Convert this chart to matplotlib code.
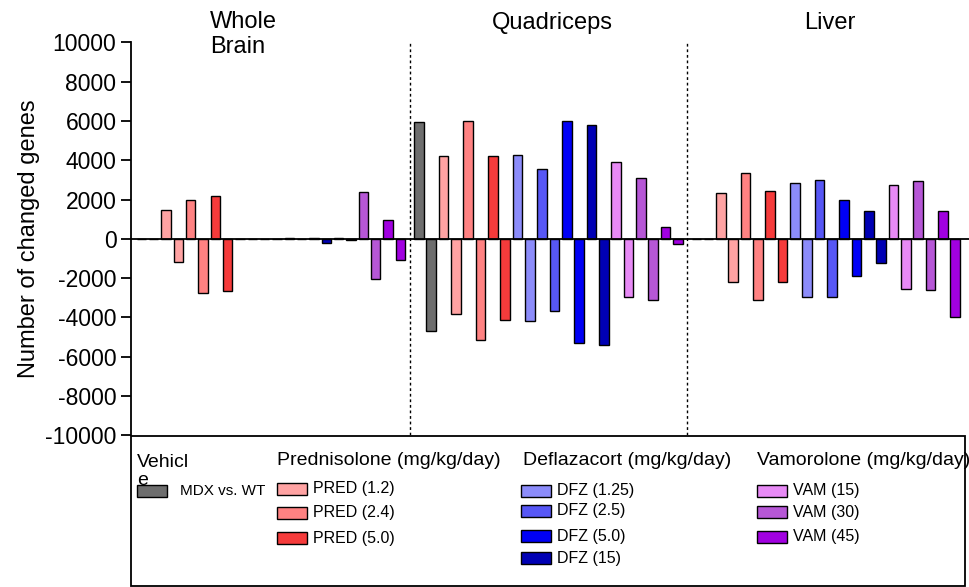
import matplotlib.pyplot as plt
from matplotlib.patches import Rectangle

plt.rcParams['font.family'] = ['Liberation Sans', 'DejaVu Sans']
plt.rcParams['axes.unicode_minus'] = False

tissues = ['Whole\nBrain', 'Quadriceps', 'Liver']
groups = ['MDX vs. WT', 'PRED (1.2)', 'PRED (2.4)', 'PRED (5.0)',
          'DFZ (1.25)', 'DFZ (2.5)', 'DFZ (5.0)', 'DFZ (15)',
          'VAM (15)', 'VAM (30)', 'VAM (45)']
colors = ['#6e6e6e', '#ffa3a3', '#ff8282', '#f53b3b',
          '#8c8cfa', '#5757f5', '#0000f5', '#0000b4',
          '#e78af5', '#b657d6', '#a100e0']

# up / down regulated gene counts per tissue
brain_up = [0, 1470, 1950, 2180, 0, 0, 20, 60, 60, 2400, 960]
brain_down = [-20, -1170, -2780, -2670, 0, -20, -20, -190, -80, -2030, -1080]
quad_up = [5950, 4200, 5990, 4210, 4260, 3550, 6000, 5790, 3890, 3080, 600]
quad_down = [-4670, -3810, -5140, -4130, -4200, -3670, -5310, -5410, -2980, -3100, -290]
liver_up = [0, 2320, 3330, 2420, 2840, 2980, 2000, 1390, 2760, 2940, 1390]
liver_down = [0, -2200, -3110, -2180, -2940, -2960, -1910, -1230, -2540, -2600, -3990]

data = [(brain_up, brain_down), (quad_up, quad_down), (liver_up, liver_down)]

fig = plt.figure(figsize=(9.7, 5.87), dpi=100)
ax = fig.add_axes([131 / 970, 1 - 435.3 / 587, (970 - 131) / 970, (435.3 - 42.3) / 587])

for t, (up, down) in enumerate(data):
    base = t * 22.5
    for g in range(len(groups)):
        x = base + g * 2
        ax.bar(x, up[g], width=0.77, color=colors[g], edgecolor='black', linewidth=1.0, zorder=3)
        ax.bar(x + 1, down[g], width=0.77, color=colors[g], edgecolor='black', linewidth=1.0, zorder=3)

ax.axhline(0, color='black', linewidth=1.3, zorder=4)
for t in (1, 2):
    ax.vlines(t * 22.5 - 0.75, -10000, 10000, colors='black', linestyles=(0, (2, 2)),
              linewidth=1.0, zorder=2)

ax.set_xlim(-0.84, 67.2)
ax.set_ylim(-10000, 10000)
ax.set_yticks(range(-10000, 10001, 2000))
ax.tick_params(axis='y', labelsize=16.5, length=7, width=1.3, pad=3.5)
ax.set_xticks([])
for s in ('top', 'right', 'bottom'):
    ax.spines[s].set_visible(False)
ax.spines['left'].set_linewidth(1.3)
ax.set_ylabel('Number of changed genes', fontsize=17)
ax.yaxis.set_label_coords(-0.109, 0.5)

# overlay in pixel coordinates for titles and the legend box
ov = fig.add_axes([0, 0, 1, 1])
ov.set_xlim(0, 970)
ov.set_ylim(587, 0)
ov.axis('off')

ov.text(210, 53, tissues[0], fontsize=17, ha='left', va='baseline', linespacing=1.15)
ov.text(552, 29, tissues[1], fontsize=17, ha='center', va='baseline')
ov.text(830, 29, tissues[2], fontsize=17, ha='center', va='baseline')

box = Rectangle((131.5, 436), 834, 150, facecolor='white', edgecolor='black', linewidth=1.3)
ov.add_patch(box)

headers = ['Prednisolone (mg/kg/day)', 'Deflazacort (mg/kg/day)', 'Vamorolone (mg/kg/day)']
header_x = [277, 523, 757]
for h, hx in zip(headers, header_x):
    txt = ov.text(hx, 465, h, fontsize=14, ha='left', va='baseline', zorder=5)
    txt.set_clip_path(box)
ov.text(137, 485, 'Vehicl\ne', fontsize=14, ha='left', va='baseline', linespacing=1.1, zorder=5)

entry_pos = [(137, 491), (277, 489), (277, 513), (277, 538),
             (521, 491), (521, 511), (521, 536), (521, 558),
             (757, 491), (757, 512), (757, 537)]
for g, (px, py) in enumerate(entry_pos):
    ov.add_patch(Rectangle((px, py - 6), 30, 12, facecolor=colors[g], edgecolor='black', linewidth=1.0))
    fs = 11 if g == 0 else 11.5
    tx = px + 43 if g == 0 else px + 36
    ov.text(tx, py, groups[g], fontsize=fs, ha='left', va='center', zorder=6)

fig.savefig('out.png', dpi=100)
